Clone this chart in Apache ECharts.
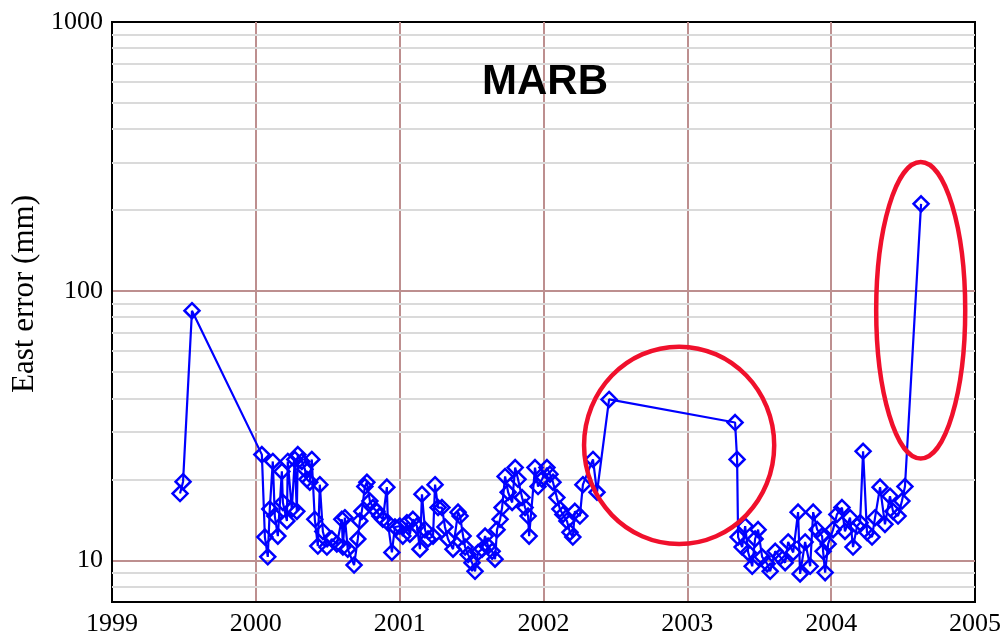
<!DOCTYPE html>
<html>
<head>
<meta charset="utf-8">
<title>MARB East error</title>
<script src="https://cdn.jsdelivr.net/npm/echarts@6/dist/echarts.min.js"></script>
<style>
  html, body { margin: 0; padding: 0; background: #fff; }
  #chart { width: 1004px; height: 637px; }
</style>
</head>
<body>
<div id="chart"></div>
<script>
// Epoch of each daily solution (decimal year)
const years = [
  1999.473, 1999.494, 1999.556,
  2000.042, 2000.063, 2000.083, 2000.097, 2000.118, 2000.132, 2000.153, 2000.181, 2000.188, 2000.216,
  2000.222, 2000.250, 2000.271, 2000.285, 2000.292, 2000.320, 2000.341, 2000.355, 2000.375, 2000.389,
  2000.410, 2000.431, 2000.445, 2000.466, 2000.494, 2000.528, 2000.563, 2000.598, 2000.605, 2000.619,
  2000.639, 2000.683, 2000.709, 2000.723, 2000.737, 2000.758, 2000.772, 2000.793, 2000.814, 2000.842,
  2000.862, 2000.883, 2000.911, 2000.918, 2000.946, 2000.967,
  2001.001, 2001.022, 2001.050, 2001.071, 2001.092, 2001.120, 2001.141, 2001.155, 2001.176, 2001.197,
  2001.232, 2001.246, 2001.267, 2001.294, 2001.315, 2001.336, 2001.371, 2001.406, 2001.420, 2001.441,
  2001.455, 2001.476, 2001.503, 2001.524, 2001.545, 2001.573, 2001.594, 2001.615, 2001.643, 2001.663,
  2001.677, 2001.698, 2001.712, 2001.733, 2001.754, 2001.782, 2001.803, 2001.823, 2001.851, 2001.872,
  2001.893, 2001.900, 2001.941, 2001.962, 2001.990,
  2002.024, 2002.045, 2002.066, 2002.093, 2002.114, 2002.135, 2002.163, 2002.184, 2002.204, 2002.218,
  2002.253, 2002.274, 2002.344, 2002.372, 2002.456,
  2003.332, 2003.346, 2003.353, 2003.381, 2003.402, 2003.423, 2003.451, 2003.471, 2003.492, 2003.520,
  2003.555, 2003.576, 2003.611, 2003.645, 2003.680, 2003.701, 2003.736, 2003.770, 2003.784, 2003.819,
  2003.854, 2003.875, 2003.903, 2003.937, 2003.944, 2003.958, 2003.979,
  2004.013, 2004.040, 2004.075, 2004.096, 2004.131, 2004.152, 2004.180, 2004.201, 2004.222, 2004.249,
  2004.284, 2004.305, 2004.340, 2004.374, 2004.409, 2004.430, 2004.465, 2004.492, 2004.513, 2004.625
];

// East component formal error (mm)
const eastError = [
  17.7, 19.6, 84.6,
  24.7, 12.2, 10.3, 15.5, 23.3, 14.6, 12.3, 21.4, 16.4, 14.0,
  23.3, 15.5, 23.7, 15.2, 24.7, 23.3, 21.8, 20.0, 19.5, 23.7,
  14.2, 11.3, 19.1, 12.8, 11.2, 12.0, 11.5, 14.2, 11.2, 14.4,
  11.0, 9.6, 12.0, 14.0, 15.2, 18.8, 19.5, 16.6, 15.7, 15.2,
  14.6, 14.2, 18.7, 13.8, 10.7, 13.3,
  13.4, 12.3, 13.8, 12.5, 14.2, 13.4, 11.0, 17.6, 13.0, 12.0,
  12.3, 19.1, 15.7, 15.7, 13.3, 12.0, 11.0, 15.1, 14.6, 12.3,
  11.2, 10.5, 9.8, 9.1, 10.7, 11.0, 12.3, 11.3, 10.8, 10.1,
  13.0, 14.2, 15.7, 20.5, 17.9, 16.4, 22.1, 20.0, 17.1, 15.7,
  14.6, 12.3, 22.1, 18.8, 20.0,
  22.1, 20.9, 19.5, 17.1, 15.5, 14.8, 14.0, 12.7, 12.2, 15.2,
  14.6, 19.1, 23.7, 17.9, 39.6,
  32.5, 23.7, 12.2, 11.2, 13.4, 10.7, 9.5, 12.0, 13.0, 10.3,
  9.7, 9.1, 10.8, 10.3, 9.8, 11.7, 10.7, 15.1, 8.9, 11.7,
  9.5, 15.1, 13.0, 12.3, 10.8, 9.0, 11.5,
  13.0, 14.8, 15.7, 12.8, 14.4, 11.2, 13.4, 13.8, 25.4, 12.7,
  12.2, 14.4, 18.7, 13.6, 17.3, 15.2, 14.6, 16.6, 18.8, 211
];

// Axis ranges
const xRange = [1999, 2005];
const yRange = [7, 1000];

// Intermediate log grid levels (2..9 within each decade)
const minorLevels = [8, 9, 20, 30, 40, 50, 60, 70, 80, 90, 200, 300, 400, 500, 600, 700, 800, 900];

// Highlighted periods: [yearFrom, yearTo, errLow, errHigh]
const highlightBoxes = [
  [2002.282, 2003.604, 11.5, 62.2],
  [2004.313, 2004.932, 23.9, 302]
];

const serif = "'Liberation Serif', 'Times New Roman', 'DejaVu Serif', serif";
const brown = '#bd8f8f';

const chart = echarts.init(document.getElementById('chart'), null, { renderer: 'canvas' });

const points = years.map((y, i) => [y, eastError[i]]);

chart.setOption({
  animation: false,
  backgroundColor: '#fff',
  title: {
    text: 'MARB',
    left: 540,
    top: 56,
    textAlign: 'center',
    textStyle: {
      fontFamily: "'Liberation Sans', Arial, sans-serif",
      fontWeight: 'bold',
      fontSize: 42,
      color: '#000'
    }
  },
  grid: {
    left: 112, top: 22, right: 29, bottom: 35,
    show: true,
    borderColor: '#000',
    borderWidth: 2,
    backgroundColor: '#fff'
  },
  xAxis: {
    type: 'value',
    min: xRange[0],
    max: xRange[1],
    interval: 1,
    axisLine: { show: true, onZero: false, lineStyle: { color: '#000', width: 2 } },
    axisTick: { show: false },
    axisLabel: {
      margin: 9,
      fontFamily: serif,
      fontSize: 26,
      color: '#000',
      formatter: v => String(Math.round(v))
    },
    splitLine: {
      show: true,
      showMinLine: false,
      showMaxLine: false,
      lineStyle: { color: brown, width: 2 }
    }
  },
  yAxis: {
    type: 'log',
    logBase: 10,
    min: yRange[0],
    max: yRange[1],
    axisLine: { show: true, lineStyle: { color: '#000', width: 2 } },
    axisTick: { show: false },
    axisLabel: {
      margin: 9,
      fontFamily: serif,
      fontSize: 26,
      color: '#000',
      formatter: v => {
        const e = Math.log10(v);
        return Math.abs(e - Math.round(e)) < 1e-6 ? String(Math.round(v)) : '';
      }
    },
    splitLine: {
      show: true,
      showMinLine: false,
      showMaxLine: false,
      lineStyle: { color: brown, width: 2 }
    }
  },
  series: [
    {
      // light grid lines between decades
      type: 'line',
      data: [],
      z: 1,
      silent: true,
      markLine: {
        silent: true,
        symbol: ['none', 'none'],
        label: { show: false },
        lineStyle: { color: '#dadada', width: 2, type: 'solid' },
        emphasis: { disabled: true },
        data: minorLevels.map(v => ({ yAxis: v }))
      }
    },
    {
      name: 'East error',
      type: 'line',
      z: 5,
      data: points,
      symbol: 'diamond',
      symbolSize: 15,
      showAllSymbol: true,
      lineStyle: { color: '#0000ff', width: 2.2 },
      itemStyle: { color: 'none', borderColor: '#0000ff', borderWidth: 2.5 }
    }
  ]
});

// Y-axis caption and red highlight ellipses
function drawOverlays() {
  const gfx = [
    {
      type: 'text',
      x: 25,
      y: 294,
      rotation: Math.PI / 2,
      style: {
        text: 'East error (mm)',
        font: "31px " + serif,
        fill: '#000',
        align: 'center',
        verticalAlign: 'middle'
      },
      z: 10
    }
  ];
  highlightBoxes.forEach(b => {
    const p1 = chart.convertToPixel({ gridIndex: 0 }, [b[0], b[3]]);
    const p2 = chart.convertToPixel({ gridIndex: 0 }, [b[1], b[2]]);
    gfx.push({
      type: 'ellipse',
      shape: {
        cx: (p1[0] + p2[0]) / 2,
        cy: (p1[1] + p2[1]) / 2,
        rx: Math.abs(p2[0] - p1[0]) / 2,
        ry: Math.abs(p2[1] - p1[1]) / 2
      },
      style: { fill: 'none', stroke: '#f0102c', lineWidth: 4.5 },
      z: 20
    });
  });
  chart.setOption({ graphic: gfx });
}
drawOverlays();
</script>
</body>
</html>
